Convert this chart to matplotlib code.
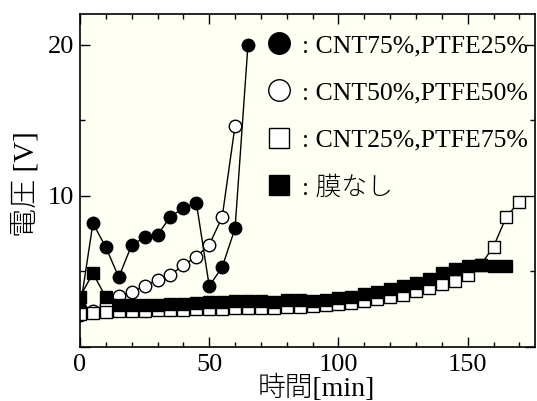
import matplotlib
matplotlib.use("Agg")
import matplotlib.pyplot as plt
from matplotlib.lines import Line2D
from matplotlib.font_manager import FontProperties
import numpy as np

# 測定データ (時間 [min], 電圧 [V])
v_cnt75 = [2.54, 8.17, 6.58, 4.60, 6.73, 7.24, 7.40, 8.61, 9.17, 9.54, 4.02, 5.26, 7.84, 20.0]
v_cnt50 = [2.10, 2.35, 2.76, 3.36, 3.60, 4.05, 4.40, 4.75, 5.40, 5.95, 6.75, 8.57, 14.64]
v_cnt25 = [2.14, 2.21, 2.32, 2.36, 2.36, 2.39, 2.40, 2.43, 2.45, 2.48, 2.49, 2.52,
           2.53, 2.54, 2.55, 2.56, 2.63, 2.63, 2.69, 2.75, 2.80, 2.90, 3.03, 3.15,
           3.27, 3.44, 3.69, 3.90, 4.13, 4.37, 4.77, 5.40, 6.62, 8.61, 9.60]
v_none = [3.31, 4.86, 3.27, 2.76, 2.76, 2.76, 2.79, 2.81, 2.84, 2.87, 2.98, 2.98,
          3.00, 3.00, 3.00, 2.98, 3.10, 3.07, 3.03, 3.10, 3.20, 3.32, 3.47, 3.62,
          3.79, 3.99, 4.23, 4.51, 4.86, 5.12, 5.37, 5.44, 5.36, 5.36]
t_step = 5

labels = [": CNT75%,PTFE25%", ": CNT50%,PTFE50%", ": CNT25%,PTFE75%", ": 膜なし"]

serif = ["Liberation Serif", "Noto Sans CJK JP"]

fig = plt.figure(figsize=(5.37, 4.01), dpi=100)
ax = fig.add_axes([0.149, 0.1354, 0.847, 0.8289])
ax.set_facecolor("#fffff3")

def tt(v):
    return np.arange(len(v)) * t_step

ax.plot(tt(v_cnt75), v_cnt75, "-o", color="k", lw=1, ms=9, mfc="k", mec="k")
ax.plot(tt(v_cnt50), v_cnt50, "-o", color="k", lw=1, ms=9, mfc="white", mec="k", mew=1)
ax.plot(tt(v_cnt25), v_cnt25, "-s", color="k", lw=1, ms=8.5, mfc="white", mec="k", mew=1)
ax.plot(tt(v_none), v_none, "-s", color="k", lw=1, ms=8.5, mfc="k", mec="k")

ax.set_xlim(0, 176)
ax.set_ylim(0, 22)
ax.set_xticks([0, 50, 100, 150])
ax.set_xticks(np.arange(0, 176, 10), minor=True)
ax.set_yticks([0, 10, 20])
ax.set_yticklabels(["", "10", "20"])
ax.set_yticks([5, 15], minor=True)
ax.tick_params(which="both", direction="in", top=True, right=True, width=1)
ax.tick_params(which="major", length=7)
ax.tick_params(which="minor", length=3.5)
ax.tick_params(axis="x", pad=5)
ax.tick_params(axis="y", pad=4)
for lab in ax.get_xticklabels() + ax.get_yticklabels():
    lab.set_family(serif)
    lab.set_fontsize(19)
for s in ax.spines.values():
    s.set_linewidth(1.2)

ax.set_xlabel("時間[min]", family=serif, fontsize=20, fontweight="light")
ax.xaxis.set_label_coords(0.52, -0.085, transform=ax.transAxes)
ax.xaxis.label.set_va("top")
ax.set_ylabel("電圧 [V]", family=serif, fontsize=21, fontweight="light")
ax.yaxis.set_label_coords(-0.088, 0.49)

handles = [
    Line2D([], [], ls="none", marker="o", ms=15.5, mfc="k", mec="k"),
    Line2D([], [], ls="none", marker="o", ms=15.5, mfc="white", mec="k", mew=1),
    Line2D([], [], ls="none", marker="s", ms=14, mfc="white", mec="k", mew=1),
    Line2D([], [], ls="none", marker="s", ms=14, mfc="k", mec="k"),
]
leg = ax.legend(handles, labels, loc="upper left", bbox_to_anchor=(0.404, 0.94),
                frameon=False, borderpad=0, borderaxespad=0, handlelength=1.2,
                handletextpad=0.3, labelspacing=0.94,
                prop=FontProperties(family=serif, size=18.5, weight="light"))

fig.savefig("out.png", dpi=100)
